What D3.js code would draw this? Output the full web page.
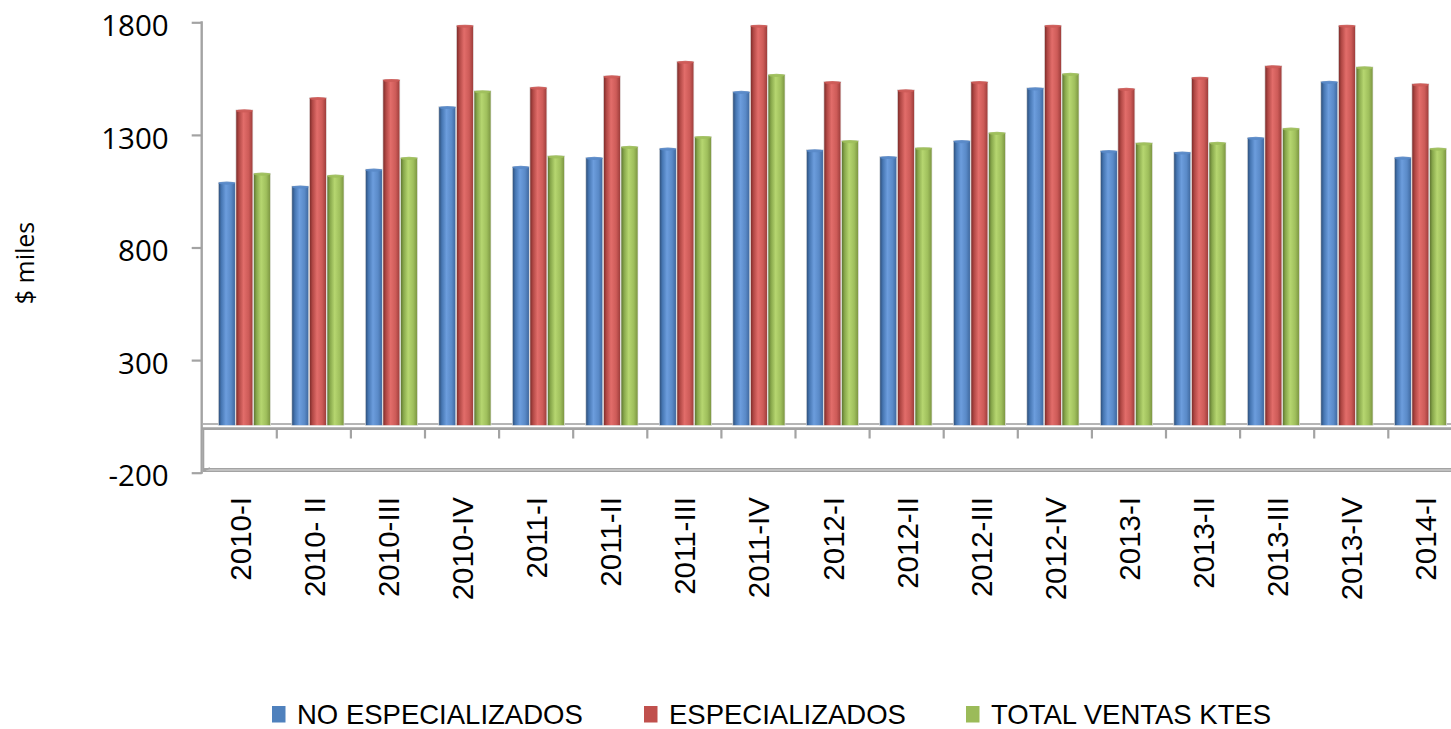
<!DOCTYPE html>
<html><head><meta charset="utf-8">
<script src="https://cdn.jsdelivr.net/npm/d3@7"></script>
<style>
html,body{margin:0;padding:0;background:#fff;}
svg{display:block;}
</style></head>
<body>
<svg id="chart" width="1451" height="729"></svg>
<script>
const categories = ["2010-I","2010- II","2010-III","2010-IV","2011-I","2011-II","2011-III","2011-IV","2012-I","2012-II","2012-III","2012-IV","2013-I","2013-II","2013-III","2013-IV","2014-I"];
const noEspecializados = [1090,1073,1148,1426,1160,1200,1241,1493,1234,1204,1275,1509,1230,1224,1289,1538,1201];
const especializados   = [1411,1466,1546,1787,1512,1562,1627,1787,1537,1500,1537,1787,1507,1556,1607,1787,1527];
const totalVentas      = [1130,1121,1200,1496,1207,1249,1293,1569,1275,1243,1311,1573,1265,1267,1330,1602,1241];
const seriesNames = ["NO ESPECIALIZADOS","ESPECIALIZADOS","TOTAL VENTAS KTES"];
const yTicks = [-200,300,800,1300,1800];

const series = [noEspecializados, especializados, totalVentas];
const colors = ["#4f81bd","#c0504d","#9bbb59"];
const grads = [
  ["#2b4a72","#4676b2","#6c9ddd","#5a8ac8","#3d669c"],
  ["#762826","#b14845","#e26d6a","#cd5b58","#9a3b39"],
  ["#5a6f2e","#88a84c","#b6d670","#9fbf5c","#7a9340"]
];

const svg = d3.select("#chart");
const W = 1451;
const font = "'Liberation Sans', Arial, sans-serif";

const y = d3.scaleLinear().domain([-200,1800]).range([472.7,22.3]);
const xTick = d3.scaleBand().domain(categories).range([202.7, 202.7 + 17*74.1]);
const xBar = d3.scaleBand().domain(categories).range([203, 203 + 17*73.5]);
const xSeries = d3.scaleBand().domain(d3.range(3)).range([15.3, 15.3 + 52.8]);

const defs = svg.append("defs");
grads.forEach((g,i)=>{
  const lg = defs.append("linearGradient").attr("id","g"+i).attr("x1","0").attr("x2","1").attr("y1","0").attr("y2","0");
  [0,0.18,0.45,0.75,1].forEach((o,j)=>lg.append("stop").attr("offset",o).attr("stop-color",g[j]));
});

const clip = defs.append("clipPath").attr("id","clipPlot");
clip.append("rect").attr("x",0).attr("y",0).attr("width",W).attr("height",729);

// floor / back wall lines
const gray = "#a3a3a3";
svg.append("line").attr("x1",203).attr("x2",W).attr("y1",424).attr("y2",424)
  .attr("stroke","#b5b5b5").attr("stroke-width",2);
svg.append("line").attr("x1",201).attr("x2",W).attr("y1",428.6).attr("y2",428.6)
  .attr("stroke",gray).attr("stroke-width",2.6);
svg.append("line").attr("x1",203).attr("x2",W).attr("y1",470).attr("y2",470)
  .attr("stroke",gray).attr("stroke-width",4);
svg.append("line").attr("x1",206).attr("x2",W).attr("y1",470).attr("y2",470)
  .attr("stroke","#dedede").attr("stroke-width",1);
svg.append("line").attr("x1",203).attr("x2",210).attr("y1",471).attr("y2",468)
  .attr("stroke",gray).attr("stroke-width",1.5);
// category ticks on floor
svg.selectAll(".ctick").data(categories.slice(1)).enter().append("line")
  .attr("x1",d=>xTick(d)).attr("x2",d=>xTick(d)).attr("y1",428).attr("y2",438.5)
  .attr("stroke",gray).attr("stroke-width",2.2);

// y axis
svg.append("line").attr("x1",201.7).attr("x2",201.7).attr("y1",y(1800)-1).attr("y2",y(-200)+1)
  .attr("stroke",gray).attr("stroke-width",2.4);
svg.append("line").attr("x1",203.6).attr("x2",203.6).attr("y1",428).attr("y2",471)
  .attr("stroke",gray).attr("stroke-width",1.4);
const yAxis = d3.axisLeft(y).tickValues(yTicks).tickSize(10).tickFormat(d=>String(d));
const ya = svg.append("g").attr("transform","translate(201.7,0)").call(yAxis);
ya.select(".domain").remove();
ya.selectAll(".tick line").attr("stroke",gray).attr("stroke-width",2.2);
ya.selectAll(".tick text").attr("x",-33).attr("dy","0.45em")
  .attr("font-family","'Open Sans', 'Liberation Sans', sans-serif").attr("font-size",29.5).attr("fill","#000");

// y title
svg.append("text").attr("transform","translate(34,263) rotate(-90)")
  .attr("text-anchor","middle").attr("font-family","'Open Sans', sans-serif").attr("font-size",25)
  .attr("fill","#000").text("$ miles");

// bars
const barG = svg.append("g").attr("clip-path","url(#clipPlot)");
series.forEach((vals,si)=>{
  const g = barG.append("g");
  const bw = xSeries.bandwidth() - 0.6;
  g.selectAll("rect").data(vals).enter().append("rect")
    .attr("x",(d,i)=>xBar(categories[i]) + xSeries(si))
    .attr("width",bw)
    .attr("y",d=>y(d))
    .attr("height",d=>y(0)-2 - y(d))
    .attr("fill","url(#g"+si+")")
    .attr("stroke","#e6e6e6").attr("stroke-width",0.7);
  g.selectAll("ellipse").data(vals).enter().append("ellipse")
    .attr("cx",(d,i)=>xBar(categories[i]) + xSeries(si) + bw/2)
    .attr("cy",d=>y(d)+1)
    .attr("rx",bw/2).attr("ry",1.6)
    .attr("fill",grads[si][3]).attr("opacity",0.9);
});

// category labels
svg.selectAll(".clabel").data(categories).enter().append("text")
  .attr("transform",d=>`translate(${xTick(d)+xTick.bandwidth()/2+11},497) rotate(-90)`)
  .attr("text-anchor","end")
  .attr("font-family",font).attr("font-size",29.5).attr("fill","#000")
  .text(d=>d);

// legend
const legendX = [272, 644, 966];
const lg = svg.append("g");
seriesNames.forEach((n,i)=>{
  lg.append("rect").attr("x",legendX[i]).attr("y",706).attr("width",13.5).attr("height",16.5).attr("fill",colors[i]);
  lg.append("text").attr("x",legendX[i]+25).attr("y",723.5)
    .attr("font-family",font).attr("font-size",27.5).attr("fill","#000").text(n);
});
</script>
</body></html>
